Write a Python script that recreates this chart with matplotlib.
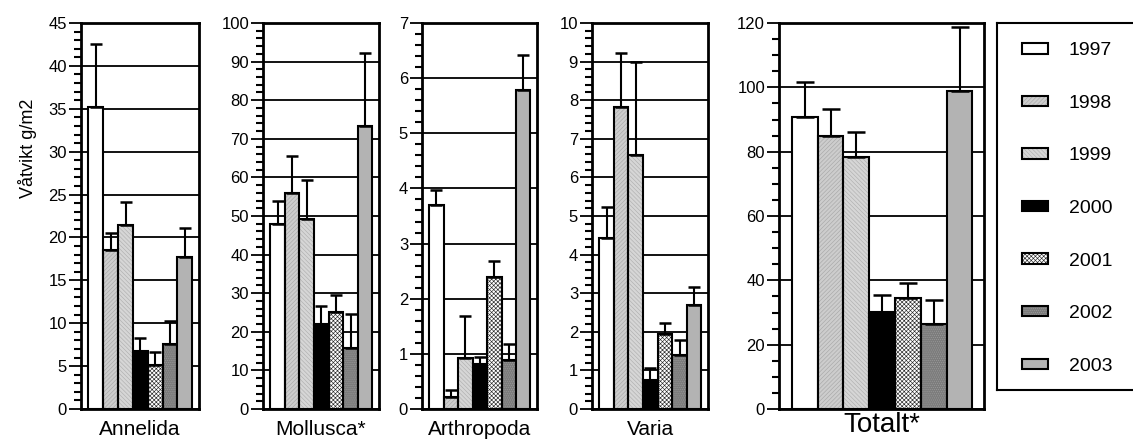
import numpy as np
import matplotlib
matplotlib.use("Agg")
import matplotlib.pyplot as plt
from matplotlib.patches import Patch
from matplotlib.legend_handler import HandlerTuple
from matplotlib.ticker import MultipleLocator

plt.rcParams["font.family"] = ["Liberation Sans", "DejaVu Sans"]
plt.rcParams["hatch.linewidth"] = 0.45

years = ["1997", "1998", "1999", "2000", "2001", "2002", "2003"]
groups = ["Annelida", "Mollusca*", "Arthropoda", "Varia", "Totalt*"]

# mean values per group (Våtvikt g/m2)
annelida = [35.2, 18.5, 21.5, 6.8, 5.1, 7.6, 17.7]
mollusca = [48.0, 56.0, 49.1, 22.0, 25.1, 15.7, 73.3]
arthropoda = [3.70, 0.21, 0.92, 0.81, 2.40, 0.88, 5.79]
varia = [4.42, 7.83, 6.59, 0.74, 1.95, 1.39, 2.69]
totalt = [90.9, 84.9, 78.3, 30.1, 34.6, 26.3, 99.0]

# upper end of the error bars
annelida_top = [42.5, 20.5, 24.1, 8.3, 6.6, 10.3, 21.1]
mollusca_top = [53.9, 65.6, 59.4, 26.8, 29.6, 24.7, 92.3]
arthropoda_top = [3.97, 0.35, 1.69, 0.95, 2.69, 1.18, 6.42]
varia_top = [5.24, 9.23, 9.0, 1.06, 2.24, 1.80, 3.15]
totalt_top = [101.7, 93.4, 86.0, 35.5, 39.2, 34.0, 118.9]

ymax = [45, 100, 7, 10, 120]
major = [5, 10, 1, 1, 20]
minor = [1, 2, 0.2, 0.2, 5]

# bar styles per year: face, hatch, hatch colour
styles = [
    ("white", None, None),
    ("#cdcdcd", "////////", "#a8a8a8"),
    ("#d6d6d6", "\\\\\\\\\\\\\\\\", "#b0b0b0"),
    ("black", None, None),
    ("white", "xxxxxxxx", "#2a2a2a"),
    ("#7c7c7c", "........", "#9a9a9a"),
    ("#b3b3b3", None, None),
]

fig = plt.figure(figsize=(11.33, 4.42), dpi=100)
W, H = 1133, 442
lefts = [81, 263, 422, 592, 779]
widths = [118, 116, 115, 116, 205]
bot_px, top_px = 409, 23

data = [annelida, mollusca, arthropoda, varia, totalt]
tops = [annelida_top, mollusca_top, arthropoda_top, varia_top, totalt_top]

x = np.arange(len(years))
for i, name in enumerate(groups):
    ax = fig.add_axes([lefts[i] / W, (H - bot_px) / H, widths[i] / W,
                       (bot_px - top_px) / H])
    vals = data[i]
    err = np.array(tops[i]) - np.array(vals)
    for j in range(len(years)):
        face, hatch, hcol = styles[j]
        if hatch:
            ax.bar(x[j], vals[j], width=1.0, color=face, hatch=hatch,
                   edgecolor=hcol, linewidth=0, zorder=2)
            ax.bar(x[j], vals[j], width=1.0, fill=False, edgecolor="black",
                   linewidth=1.5, zorder=3)
        else:
            ax.bar(x[j], vals[j], width=1.0, color=face, edgecolor="black",
                   linewidth=1.5, zorder=3)
    cap = 6.5 if i == 4 else 4.5
    ax.errorbar(x, vals, yerr=[np.zeros(len(vals)), err], fmt="none",
                ecolor="black", elinewidth=1.5, capsize=cap, capthick=1.8,
                zorder=4)
    ax.set_xlim(-1.0, 6.95)
    ax.set_ylim(0, ymax[i])
    ax.yaxis.set_major_locator(MultipleLocator(major[i]))
    ax.yaxis.set_minor_locator(MultipleLocator(minor[i]))
    ax.yaxis.grid(True, which="major", color="black", linewidth=1.3, zorder=1)
    ax.set_axisbelow(True)
    ax.set_xticks([])
    ax.tick_params(axis="y", which="major", length=9, width=1.3, labelsize=12,
                   pad=1, direction="out")
    ax.tick_params(axis="y", which="minor", length=5, width=1.5,
                   direction="out")
    for s in ax.spines.values():
        s.set_linewidth(2)
    ax.set_xlabel(name, fontsize=20 if i == 4 else 15,
                  labelpad=2 if i == 4 else 8)
    if i == 0:
        ax.set_ylabel("Våtvikt g/m2", fontsize=13)
        ax.yaxis.set_label_coords(-0.37, 0.675)

# legend box
lax = fig.add_axes([997 / W, 52 / H, 150 / W, (390 - 23) / H])
lax.set_xticks([])
lax.set_yticks([])
for s in lax.spines.values():
    s.set_linewidth(1.5)
handles = []
for j, yr in enumerate(years):
    face, hatch, hcol = styles[j]
    if hatch:
        handles.append((Patch(facecolor=face, edgecolor=hcol, linewidth=0,
                              hatch=hatch),
                        Patch(fill=False, edgecolor="black", linewidth=1.5)))
    else:
        handles.append(Patch(facecolor=face, edgecolor="black", linewidth=1.5))
lax.legend(handles=handles, labels=years, loc="upper left",
           bbox_to_anchor=(0.065, 0.99), frameon=False, fontsize=14,
           labelspacing=1.83, handlelength=1.3, handleheight=0.45,
           handletextpad=1.1, borderpad=0.3,
           handler_map={tuple: HandlerTuple(ndivide=1)})

fig.savefig("out.png", dpi=100)
